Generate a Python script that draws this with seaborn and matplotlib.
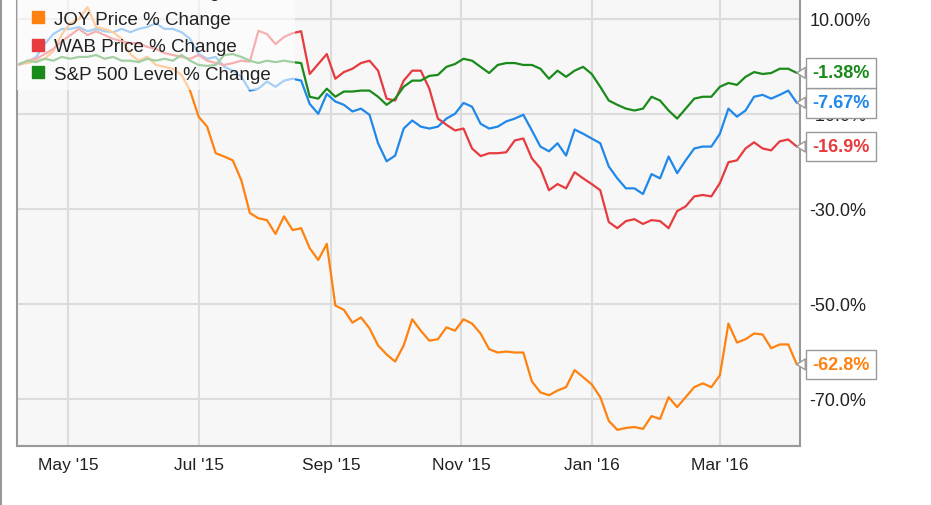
import pandas as pd
import numpy as np
import seaborn as sns
import matplotlib.pyplot as plt
from matplotlib.lines import Line2D

# one reading every 4 days, Apr 8 2015 -> Apr 6 2016
dates = pd.date_range('2015-04-08', periods=92, freq='4D')

cat_change = [0.5, 0.9, 2.0, 4.7, 6.8, 7.9, 7.9, 8.3, 7.4, 7.9,
              7.4, 7.2, 7.9, 7.2, 7.9, 8.3, 9.1, 7.9, 7.9, 7.2,
              5.8, 2.6, 1.6, 2.0, -0.1, -0.9, -2.2, -5.1, -4.7, -3.2,
              -4.3, -3.0, -2.6, -3.0, -7.9, -10.0, -5.8, -7.4, -8.1, -9.5,
              -8.9, -10.2, -16.2, -20.0, -18.8, -13.1, -11.4, -12.7, -13.1, -12.7,
              -11.0, -10.0, -7.7, -8.5, -12.1, -13.1, -12.7, -11.6, -11.0, -10.2,
              -13.5, -16.9, -17.9, -16.2, -18.8, -13.3, -14.2, -15.2, -16.2, -21.1,
              -23.6, -25.7, -25.7, -26.9, -22.7, -23.6, -19.0, -22.5, -19.8, -17.3,
              -16.9, -16.9, -14.2, -8.9, -10.6, -9.3, -6.4, -6.0, -6.8, -6.0,
              -5.1, -7.67]

joy_change = [0.5, 0.7, 1.2, 1.6, 3.2, 6.8, 9.1, 10.0, 12.5, 8.3,
              7.9, 7.2, 5.8, 2.6, 1.2, 2.0, 0.3, -0.1, -0.5, -1.8,
              -5.1, -10.6, -12.7, -18.3, -19.0, -19.8, -24.0, -30.9, -32.0, -32.4,
              -35.3, -31.6, -34.5, -34.1, -38.3, -40.8, -37.4, -50.4, -51.3, -54.0,
              -52.9, -55.2, -58.8, -60.7, -62.2, -58.8, -53.3, -55.7, -57.8, -57.5,
              -55.0, -55.7, -53.3, -54.2, -56.3, -59.6, -60.3, -60.1, -60.3, -60.3,
              -66.4, -68.7, -69.3, -68.3, -67.6, -64.0, -65.5, -67.0, -69.7, -74.7,
              -76.6, -76.2, -76.0, -76.4, -73.7, -74.3, -69.7, -71.8, -69.7, -67.6,
              -66.8, -67.6, -65.1, -54.2, -58.2, -57.5, -56.3, -56.5, -59.4, -58.6,
              -58.6, -62.8]

wab_change = [0.3, 1.2, 1.6, 2.6, 3.7, 5.3, 6.6, 7.9, 6.6, 7.4,
              6.6, 5.8, 5.3, 4.9, 4.9, 4.1, 3.7, 2.8, 2.4, 2.0,
              1.6, 2.4, 1.2, 0.7, 0.3, 0.7, 1.2, 1.0, 7.5, 6.8,
              4.7, 6.2, 7.0, 7.4, -1.6, 0.5, 2.6, -2.6, -1.2, -0.5,
              0.7, 1.2, -0.9, -6.8, -7.2, -3.0, -0.9, -0.9, -4.7, -11.0,
              -12.3, -13.5, -13.1, -17.3, -18.9, -18.3, -18.3, -18.1, -15.6, -15.2,
              -19.4, -21.5, -26.1, -24.8, -25.7, -22.3, -23.6, -24.8, -26.1, -32.8,
              -34.1, -32.6, -32.2, -33.2, -32.4, -32.6, -34.1, -30.5, -29.5, -27.4,
              -27.1, -27.4, -24.6, -20.2, -19.8, -17.3, -16.0, -17.3, -17.7, -15.8,
              -15.4, -16.9]

spx_change = [0.5, 1.2, 0.9, 1.6, 1.2, 2.0, 1.6, 2.0, 2.0, 2.4,
              1.6, 2.0, 1.2, 1.2, 0.9, 1.6, 1.2, 1.6, 1.2, 2.4,
              1.2, 0.3, 0.1, 0.3, 2.4, 2.6, 2.0, 1.2, 0.7, 1.2,
              0.9, 1.2, 0.9, 0.7, -6.4, -6.8, -4.7, -6.4, -5.3, -5.3,
              -5.1, -5.1, -6.4, -8.1, -6.8, -4.3, -3.0, -3.0, -2.0, -1.8,
              -0.1, 0.5, 1.6, 1.2, -0.1, -1.4, 0.3, 0.7, 0.7, 0.3,
              0.3, -0.5, -2.6, -0.9, -2.2, -0.9, -0.1, -1.6, -4.3, -7.2,
              -8.1, -8.9, -9.3, -8.9, -6.4, -7.2, -9.3, -11.0, -8.9, -6.8,
              -6.4, -6.4, -4.3, -3.5, -3.9, -2.2, -1.2, -1.6, -1.4, -0.5,
              -0.5, -1.38]

series_names = ['CAT Price % Change', 'JOY Price % Change',
                'WAB Price % Change', 'S&P 500 Level % Change']
series_colors = ['#2088e8', '#ff8210', '#e63b3f', '#1a8a1a']
end_labels = ['-7.67%', '-62.8%', '-16.9%', '-1.38%']

month_ticks = ['2015-05-01', '2015-07-01', '2015-09-01', '2015-11-01', '2016-01-01', '2016-03-01']
month_labels = ["May '15", "Jul '15", "Sep '15", "Nov '15", "Jan '16", "Mar '16"]
y_ticks = [10, -10, -30, -50, -70]
y_labels = ['10.00%', '-10.0%', '-30.0%', '-50.0%', '-70.0%']


sns.set_theme(style='white')
plt.rcParams['font.family'] = ['Liberation Sans', 'DejaVu Sans']

df = pd.DataFrame({'date': dates,
                   series_names[0]: cat_change,
                   series_names[1]: joy_change,
                   series_names[2]: wab_change,
                   series_names[3]: spx_change})
long_df = df.melt(id_vars='date', var_name='series', value_name='change')

fig = plt.figure(figsize=(9.31, 5.06), dpi=100)
ax = fig.add_axes([17/931, 59/506, 783/931, 447/506])
ax.set_facecolor('#f7f7f7')

sns.lineplot(data=long_df, x='date', y='change', hue='series', hue_order=series_names,
             palette=series_colors, linewidth=1.6, legend=False, ax=ax)

ax.set_xlim(pd.Timestamp('2015-04-07'), pd.Timestamp('2016-04-07 12:00'))
ax.set_ylim(-80.0, 14.2)
ax.set_xlabel('')
ax.set_ylabel('')

ax.set_xticks(pd.to_datetime(month_ticks))
ax.set_xticklabels(month_labels)
ax.yaxis.tick_right()
ax.set_yticks(y_ticks)
ax.set_yticklabels(y_labels)
ax.tick_params(axis='x', length=0, pad=8, labelsize=12.5, colors='#222222')
ax.tick_params(axis='y', length=0, pad=7, labelsize=13, colors='#222222')

ax.grid(True, color='#dcdcdc', linewidth=1.5)
ax.set_axisbelow(True)
for side in ['left', 'bottom', 'right']:
    ax.spines[side].set_color('#999999')
    ax.spines[side].set_linewidth(1.5)
ax.spines['top'].set_visible(False)

# outer frame line on the left
fig.add_artist(Line2D([0.0015, 0.0015], [0, 1], transform=fig.transFigure,
                      color='#999999', linewidth=1.5))

# legend, top row runs off the figure
handles = [Line2D([], [], marker='s', linestyle='none', markersize=8, color=c)
           for c in series_colors]
leg = ax.legend(handles, series_names, loc='upper left',
                bbox_to_anchor=(0, 1.0526, 0.355, 0), mode='expand',
                borderaxespad=0, frameon=True, fancybox=False, framealpha=0.6,
                edgecolor='none', facecolor='white', fontsize=13.5, labelspacing=0.56,
                handlelength=1.4, handletextpad=0.15, borderpad=0.4)
for t in leg.get_texts():
    t.set_color('#222222')

# end value callouts
series_values = [cat_change, joy_change, wab_change, spx_change]
for vals, lab, c in zip(series_values, end_labels, series_colors):
    ax.annotate(lab, xy=(dates[-1], vals[-1]), xytext=(11, 0), textcoords='offset points',
                ha='left', va='center', fontsize=13, fontweight='bold', color=c,
                bbox=dict(boxstyle='square,pad=0.35', fc='white', ec='#999999', lw=1),
                arrowprops=dict(arrowstyle='wedge,tail_width=0.6,shrink_factor=0.5',
                                fc='white', ec='#999999', lw=1, shrinkA=0, shrinkB=0),
                annotation_clip=False)

plt.savefig('out.png', dpi=100)
